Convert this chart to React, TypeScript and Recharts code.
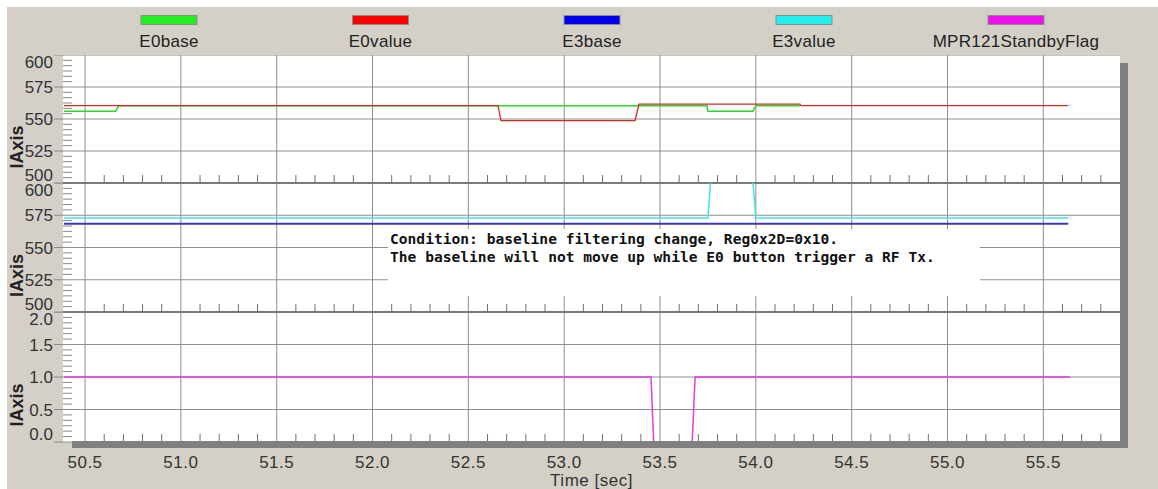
import { CartesianGrid, Line, LineChart, ReferenceLine, XAxis, YAxis } from 'recharts'

// time axis [sec]
const timeTicks = [50.5, 51.0, 51.5, 52.0, 52.5, 53.0, 53.5, 54.0, 54.5, 55.0, 55.5]
const timeDomain: [number, number] = [50.385, 55.9]

// value axes
const rawTicks = [500, 525, 550, 575, 600]
const flagTicks = [0, 0.5, 1.0, 1.5, 2.0]

// legend
const seriesNames = ['E0base', 'E0value', 'E3base', 'E3value', 'MPR121StandbyFlag']
const swatchColors = ['#22ee22', '#ff0000', '#0000ee', '#22eeee', '#ee11ee']
const lineColors = ['#2fd52f', '#d42b1c', '#3b3bb0', '#3fe6e6', '#e23ae2']

// top panel: E0
const e0BaseTime = [50.39, 50.66, 50.675, 53.745, 53.75, 53.985, 54.0, 54.23]
const e0BaseValue = [556, 556, 560.4, 560.4, 556, 556, 560.4, 560.4]
const e0ValueTime = [50.39, 52.655, 52.67, 53.37, 53.39, 54.23, 54.235, 55.63]
const e0ValueValue = [560.4, 560.4, 548.7, 548.7, 561.6, 561.6, 560.4, 560.4]

// middle panel: E3
const e3BaseTime = [50.39, 55.63]
const e3BaseValue = [568.5, 568.5]
const e3ValueTime = [50.39, 53.75, 53.782, 53.963, 54.0, 55.63]
const e3ValueValue = [572.8, 572.8, 640, 640, 572.8, 572.8]

// bottom panel: standby flag
const flagTime = [50.39, 53.453, 53.467, 53.668, 53.683, 55.64]
const flagValue = [1, 1, 0, 0, 1, 1]

const note = [
  'Condition: baseline filtering change, Reg0x2D=0x10.',
  'The baseline will not move up while E0 button trigger a RF Tx.',
]

const W = 1151
const H = 482
const AXIS_W = 56
const MARGIN_RIGHT = 38
const FONT = '"Liberation Sans", Arial, sans-serif'
const legendX = [162, 373.5, 585, 797, 1009]

const toPoints = (ts: number[], vs: number[]) => ts.map((t, i) => ({ t, v: vs[i] }))

// major ticks plus the minor ones between (and around) them
function withMinor(majors: number[], parts: number, lo: number, hi: number) {
  const step = (majors[1] - majors[0]) / parts
  const out: number[] = []
  const eps = (hi - lo) * 0.005
  for (let k = -parts; k <= (majors.length - 1) * parts + parts; k++) {
    const v = Math.round((majors[0] + k * step) * 1e6) / 1e6
    if (k % parts === 0 && k >= 0 && k <= (majors.length - 1) * parts) out.push(v)
    else if (v > lo + eps && v < hi - eps) out.push(v)
  }
  return out
}

const isMajor = (majors: number[], v: number) => majors.some((m) => Math.abs(m - v) < 1e-6)

const timeAll = withMinor(timeTicks, 5, timeDomain[0], timeDomain[1])

// y tick: label + outer tick for majors, short inner tick for minors
const makeYTick = (majors: number[], fmt: (v: number) => string, lo: number, hi: number) => (props: any) => {
  const { x, y, payload } = props
  const v = payload.value
  if (!isMajor(majors, v)) {
    return <line x1={x} x2={x + 9} y1={y} y2={y} stroke="#8a8a8a" />
  }
  const shift = v === hi ? 7 : v === lo ? -8 : 0
  return (
    <g>
      <line x1={x - 9} x2={x} y1={y} y2={y} stroke="#8a8a8a" />
      <text x={x - 10} y={y + shift + 6} textAnchor="end" fontSize={17} fontFamily={FONT} fill="#333">
        {fmt(v)}
      </text>
    </g>
  )
}

// x tick: short inner tick for minors, label for majors on the time axis
const makeXTick = (labels: boolean) => (props: any) => {
  const { x, y, payload } = props
  const v = payload.value
  if (!isMajor(timeTicks, v)) {
    return <line x1={x} x2={x} y1={y - 8} y2={y} stroke="#6e6e6e" />
  }
  if (!labels) return <g />
  return (
    <text x={x} y={y + 14} dy="0.71em" textAnchor="middle" fontSize={17} fontFamily={FONT} fill="#333" letterSpacing={0.5}>
      {v.toFixed(1)}
    </text>
  )
}

interface Series {
  name: string
  data: { t: number; v: number }[]
  color: string
  width: number
}

interface PanelProps {
  top: number
  plotHeight: number
  domain: [number, number]
  ticks: number[]
  fmt: (v: number) => string
  series: Series[]
  timeAxis?: boolean
  sepTop?: boolean
  sepBottom?: boolean
}

function Panel({ top, plotHeight, domain, ticks, fmt, series, timeAxis, sepTop, sepBottom }: PanelProps) {
  // an axis of height 0 is not drawn, so the untitled panels keep a 1px strip
  const xh = timeAxis ? 47 : 1
  const yAll = withMinor(ticks, 6, domain[0], domain[1])
  return (
    <div style={{ position: 'absolute', left: 0, top }}>
      <LineChart width={W} height={plotHeight + xh} margin={{ top: 0, right: MARGIN_RIGHT, bottom: 0, left: 0 }}>
        <CartesianGrid fill="#ffffff" stroke="#8e8e8e" horizontalValues={ticks} verticalValues={timeTicks} />
        <XAxis
          dataKey="t"
          type="number"
          domain={timeDomain}
          allowDataOverflow
          ticks={timeAll}
          interval={0}
          height={xh}
          tickSize={0}
          tickMargin={0}
          axisLine={false}
          tickLine={false}
          tick={makeXTick(!!timeAxis)}
          label={
            timeAxis
              ? { value: 'Time [sec]', position: 'insideBottom', offset: 3.5, fontSize: 17, fill: '#333', fontFamily: FONT, letterSpacing: 0.5 }
              : undefined
          }
        />
        <YAxis
          type="number"
          domain={domain}
          allowDataOverflow
          ticks={yAll}
          interval={0}
          width={AXIS_W}
          tickSize={0}
          tickMargin={0}
          axisLine={false}
          tickLine={false}
          tick={makeYTick(ticks, fmt, domain[0], domain[1])}
          label={{ value: 'IAxis', angle: -90, position: 'center', dx: -18, dy: 28, fontSize: 18, fontWeight: 'bold', fill: '#222', fontFamily: FONT }}
        />
        {sepTop && <ReferenceLine y={domain[1]} stroke="#7a7a7a" strokeWidth={2} />}
        {sepBottom && <ReferenceLine y={domain[0]} stroke="#7a7a7a" strokeWidth={2} />}
        {series.map((s) => (
          <Line
            key={s.name}
            data={s.data}
            dataKey="v"
            name={s.name}
            type="linear"
            stroke={s.color}
            strokeWidth={s.width}
            dot={false}
            activeDot={false}
            isAnimationActive={false}
          />
        ))}
      </LineChart>
    </div>
  )
}

export default function App() {
  const raw = (v: number) => String(v)
  const flag = (v: number) => v.toFixed(1)
  return (
    <div style={{ position: 'fixed', left: 7, top: 7, width: W, height: H, background: '#d4d0c8', overflow: 'hidden' }}>
      <Panel
        top={48}
        plotHeight={128}
        domain={[500, 600]}
        ticks={rawTicks}
        fmt={raw}
        sepBottom
        series={[
          { name: seriesNames[0], data: toPoints(e0BaseTime, e0BaseValue), color: lineColors[0], width: 1.6 },
          { name: seriesNames[1], data: toPoints(e0ValueTime, e0ValueValue), color: lineColors[1], width: 1.3 },
        ]}
      />
      <Panel
        top={176}
        plotHeight={129}
        domain={[500, 600]}
        ticks={rawTicks}
        fmt={raw}
        sepTop
        sepBottom
        series={[
          { name: seriesNames[2], data: toPoints(e3BaseTime, e3BaseValue), color: lineColors[2], width: 2 },
          { name: seriesNames[3], data: toPoints(e3ValueTime, e3ValueValue), color: lineColors[3], width: 1.5 },
        ]}
      />
      <Panel
        top={305}
        plotHeight={130}
        domain={[0, 2]}
        ticks={flagTicks}
        fmt={flag}
        sepTop
        timeAxis
        series={[{ name: seriesNames[4], data: toPoints(flagTime, flagValue), color: lineColors[4], width: 1.5 }]}
      />
      <svg width={W} height={H} style={{ position: 'absolute', left: 0, top: 0, pointerEvents: 'none' }}>
        {seriesNames.map((n, i) => (
          <g key={n}>
            <rect x={legendX[i] - 28} y={8.5} width={56} height={9} fill={swatchColors[i]} stroke="#8c8c8c" />
            <text x={legendX[i]} y={40} textAnchor="middle" fontSize={17} fontFamily={FONT} fill="#222" letterSpacing={0.3}>
              {n}
            </text>
          </g>
        ))}
        <rect x={381} y={222} width={592} height={67} fill="#ffffff" />
        {note.map((line, i) => (
          <text key={i} x={383} y={237 + i * 18} fontSize={14.6} fontWeight="bold" fontFamily='"DejaVu Sans Mono", monospace' fill="#111">
            {line}
          </text>
        ))}
        <rect x={1113} y={56} width={8} height={385} fill="#808080" />
        <rect x={65} y={434} width={1056} height={7} fill="#808080" />
      </svg>
    </div>
  )
}
